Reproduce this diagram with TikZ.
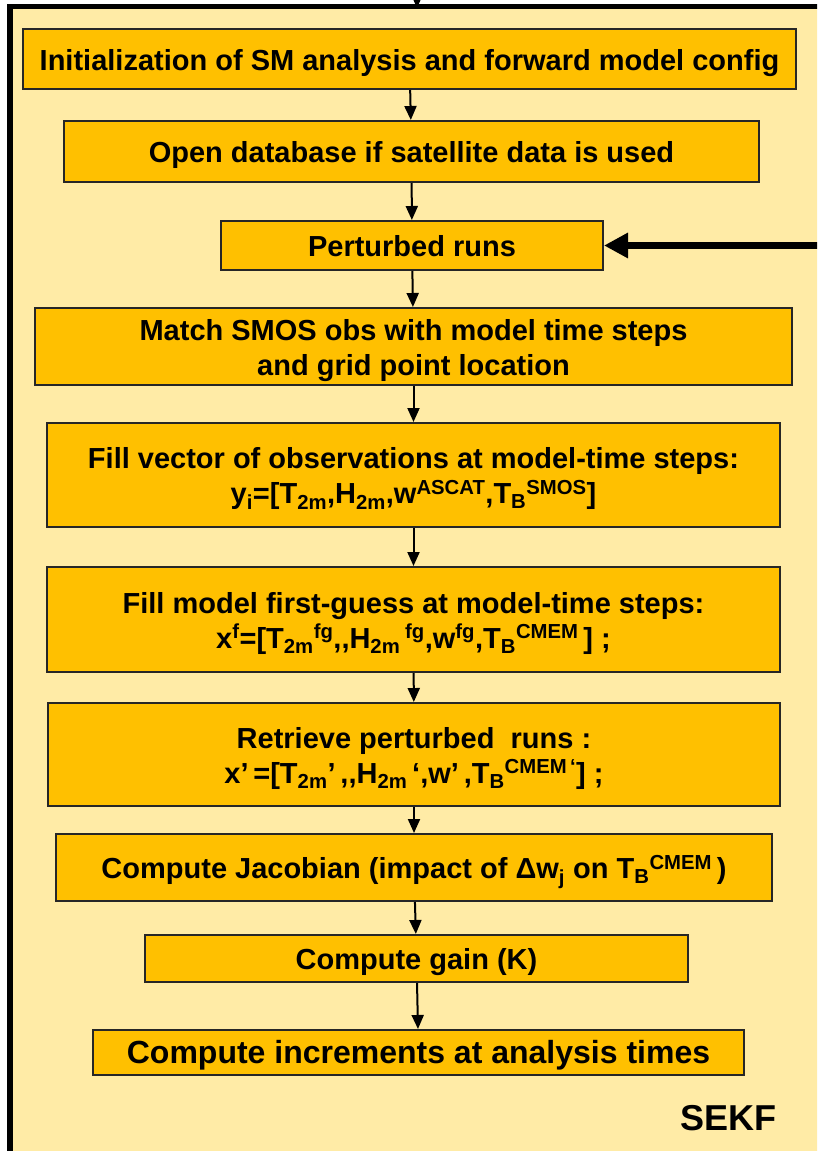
\documentclass[tikz,border=0pt]{standalone}
\usepackage{fontspec}
\setmainfont{Liberation Sans}
\usetikzlibrary{arrows.meta}
\definecolor{panel}{RGB}{255,235,166}
\definecolor{boxfill}{RGB}{255,192,0}
\begin{document}
\begin{tikzpicture}[x=1pt,y=-1pt,
  stepbox/.style={draw=black!85, line width=2pt, fill=boxfill, inner sep=0pt,
    align=center, anchor=center, font=\fontsize{29}{35}\selectfont\bfseries,
    text height=22pt, text depth=0pt},
  twoline/.style={text height=57pt},
  flow/.style={-{Triangle[length=14pt,width=12pt]}, line width=2pt},
  loopback/.style={-{Triangle[length=24pt,width=24pt]}, line width=7pt}]
\useasboundingbox (0,0) rectangle (817,1151);
\clip (0,0) rectangle (817,1151);
\fill[white] (0,0) rectangle (817,1151);
% SEKF panel, open to the right and bottom
\draw[line width=5.5pt, fill=panel] (9.8,6.5) rectangle (860,1190);

% processing steps
\node[stepbox, minimum width=773pt, minimum height=60pt] (init) at (409.5,59)
  {Initialization of SM analysis and forward model config};
\node[stepbox, minimum width=695pt, minimum height=61pt] (open) at (411.5,151.5)
  {Open database if satellite data is used};
\node[stepbox, minimum width=382pt, minimum height=49pt] (pert) at (412,245.5)
  {Perturbed runs};
\node[stepbox, twoline, minimum width=757pt, minimum height=77pt] (match) at (413.5,346.5)
  {Match SMOS obs with model time steps\\and grid point location};
\node[stepbox, twoline, minimum width=733pt, minimum height=104pt] (obs) at (413.5,475)
  {Fill vector of observations at model-time steps:\\
   y\textsubscript{i}=[T\textsubscript{2m},H\textsubscript{2m},w\textsuperscript{ASCAT},T\textsubscript{B}\textsuperscript{SMOS}]};
\node[stepbox, twoline, minimum width=733pt, minimum height=105pt] (fg) at (413.5,619.5)
  {Fill model first-guess at model-time steps:\\
   x\textsuperscript{f}=[T\textsubscript{2m}\textsuperscript{fg},{},H\textsubscript{2m}\,\textsuperscript{fg},w\textsuperscript{fg},T\textsubscript{B}\textsuperscript{CMEM}\,] ;};
\node[stepbox, twoline, minimum width=732pt, minimum height=103pt] (retr) at (414,754.5)
  {Retrieve perturbed\ \ runs :\\
   x’\,=[T\textsubscript{2m}’\,,{},H\textsubscript{2m}\,‘,w’\,,T\textsubscript{B}\textsuperscript{CMEM\,‘}] ;};
\node[stepbox, minimum width=716pt, minimum height=67pt] (jac) at (414,867.5)
  {Compute Jacobian (impact of Δw\textsubscript{j} on T\textsubscript{B}\textsuperscript{CMEM}\,)};
\node[stepbox, minimum width=543pt, minimum height=47pt] (gain) at (416.5,958.5)
  {Compute gain (K)};
\node[stepbox, minimum width=651pt, minimum height=45pt,
      font=\fontsize{32}{38}\selectfont\bfseries] (incr) at (418.5,1052.5)
  {Compute increments at analysis times};
\node[font=\fontsize{36}{42}\selectfont\bfseries] (tag) at (728,1118) {SEKF};

% connectors
\coordinate (src) at (417,-40);
\coordinate (entry) at (417,8);
\draw[flow] (src) -- (entry);
\draw[flow] (init) -- (open);
\draw[flow] (open) -- (pert);
\draw[flow] (pert) -- (match);
\draw[flow] (match) -- (obs);
\draw[flow] (obs) -- (fg);
\draw[flow] (fg) -- (retr);
\draw[flow] (retr) -- (jac);
\draw[flow] (jac) -- (gain);
\draw[flow] (gain) -- (incr);
\coordinate (back) at (840,245.5);
\draw[loopback] (back) -- (pert.east);
\end{tikzpicture}
\end{document}
